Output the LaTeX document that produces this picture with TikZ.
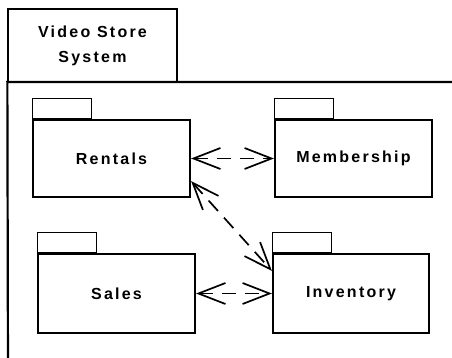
\documentclass[tikz,border=0pt]{standalone}
\usepackage{fontspec}
\setmainfont{Liberation Sans}[LetterSpace=14]
\usetikzlibrary{arrows.meta,calc}

\begin{document}
\begin{tikzpicture}[x=1pt,y=-1pt,
  pkgbody/.style={draw, line width=2.2pt, inner sep=0pt,
    font=\fontsize{16}{20}\selectfont\bfseries},
  pkgtab/.style={draw, line width=1.2pt, inner sep=0pt,
    minimum width=59pt, minimum height=20pt, anchor=south west},
  barb/.tip={Straight Barb[length=27pt,width=21pt,line width=1.7pt]},
  dep/.style={line width=1.7pt, dash pattern=on 14pt off 9pt, {barb}-{barb}}
]
\useasboundingbox (0,0) rectangle (452,358);
\clip (0,0) rectangle (452,358);
\fill[white] (0,0) rectangle (452,358);

% enclosing package: tab with name, body running past the edges
\node[draw, line width=1.3pt, minimum width=169pt, minimum height=73pt,
  inner sep=0pt, align=center, font=\fontsize{16}{25}\selectfont\bfseries]
  (systab) at (92.5,45.5) {Video Store\\System};
\coordinate (bodyright) at (470,82);
\coordinate (bodybottom) at (8,380);
\draw[line width=2.2pt] (bodyright) -- (systab.south west |- bodyright) -- (bodybottom);

% inner packages
\node[pkgbody, minimum width=157pt, minimum height=77pt] (rent) at (111.5,158.5) {Rentals};
\node[pkgtab] (renttab) at (rent.north west) {};
\node[pkgbody, minimum width=157pt, minimum height=77pt] (memb) at (353.5,158.5) {Membership};
\node[pkgtab] (membtab) at (memb.north west) {};
\node[pkgbody, minimum width=157pt, minimum height=79pt] (sales) at (116.5,293.5) {Sales};
\node[pkgtab] (salestab) at (sales.north west) {};
\node[pkgbody, minimum width=156pt, minimum height=79pt] (inv) at (351,293.5) {Inventory};
\node[pkgtab] (invtab) at (inv.north west) {};

% dependencies
\draw[dep] (rent.east) -- (memb.west);
\draw[dep] (sales.east) -- (inv.west);
\draw[dep] ([yshift=17pt]rent.south east) -- ([yshift=-18pt]inv.north west);
\end{tikzpicture}
\end{document}
